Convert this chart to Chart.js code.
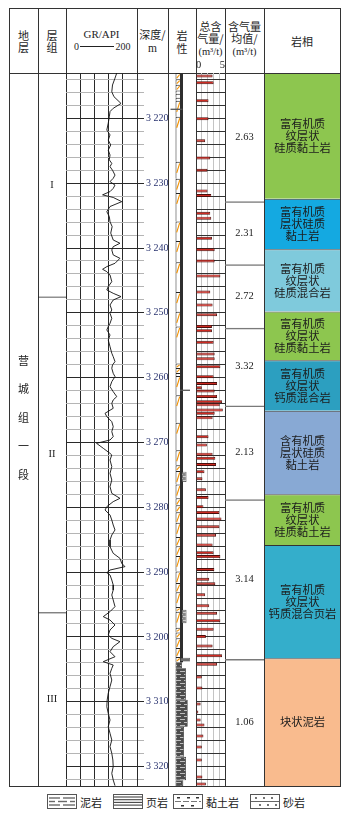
<!DOCTYPE html>
<html lang="zh">
<head>
<meta charset="utf-8">
<title>营城组一段综合柱状图</title>
<script src="https://cdn.jsdelivr.net/npm/chart.js@4.4.1/dist/chart.umd.min.js"></script>
<style>
html,body{margin:0;padding:0;background:#fff;}
#page{position:relative;width:352px;height:820px;overflow:hidden;background:#fff;font-family:"Noto Sans CJK SC","Noto Sans",sans-serif;color:#1e1e1e;}
.ln{position:absolute;background:#333;}
.tx{position:absolute;text-align:center;white-space:nowrap;font-size:11px;line-height:12px;}
.serif{font-family:"Liberation Serif","DejaVu Serif",serif;}
canvas{position:absolute;}
.lg{position:absolute;display:flex;align-items:center;gap:3px;font-size:11px;line-height:14px;white-space:nowrap;color:#222;}
.lg svg{display:block;}
</style>
</head>
<body>
<div id="page">
  <!-- table frame -->
  <div class="ln" style="left:9px;top:8px;width:332px;height:1px"></div>
  <div class="ln" style="left:9px;top:786px;width:332px;height:1px"></div>
  <div class="ln" style="left:9px;top:8px;width:1px;height:779px"></div>
  <div class="ln" style="left:340px;top:8px;width:1px;height:779px"></div>
  <div class="ln" style="left:9px;top:73px;width:332px;height:1px"></div>
  <div class="ln" style="left:38px;top:8px;width:1px;height:779px"></div>
  <div class="ln" style="left:66px;top:8px;width:1px;height:779px"></div>
  <div class="ln" style="left:137px;top:8px;width:1px;height:779px"></div>
  <div class="ln" style="left:168px;top:8px;width:1px;height:779px"></div>
  <div class="ln" style="left:196px;top:8px;width:1px;height:779px"></div>
  <div class="ln" style="left:225px;top:8px;width:1px;height:779px"></div>
  <div class="ln" style="left:264px;top:8px;width:1px;height:779px"></div>
  <div class="ln" style="left:80px;top:46px;width:34px;height:1px;background:#222"></div>

  <div id="hdr"></div>

  <canvas id="cStrat" width="29" height="713" style="left:9px;top:73px"></canvas>
  <canvas id="cGroup" width="28" height="713" style="left:38px;top:73px"></canvas>
  <canvas id="cGR" width="102" height="713" style="left:66px;top:73px"></canvas>
  <canvas id="cLitho" width="28" height="713" style="left:168px;top:73px"></canvas>
  <canvas id="cGas" width="29" height="725" style="left:196px;top:61px"></canvas>
  <canvas id="cAvg" width="39" height="713" style="left:225px;top:73px"></canvas>
  <canvas id="cFacies" width="75" height="713" style="left:265px;top:73px"></canvas>

  <!-- legend -->
  <div class="lg" style="left:47px;top:794px">
    <svg width="30" height="15"><rect x="0.5" y="0.5" width="29" height="14" fill="#fff" stroke="#555"/>
      <g stroke="#6a6a6a" stroke-width="1.4"><line x1="2" y1="4" x2="13" y2="4"/><line x1="16" y1="4" x2="28" y2="4"/><line x1="2" y1="7.5" x2="8" y2="7.5"/><line x1="11" y1="7.5" x2="20" y2="7.5"/><line x1="23" y1="7.5" x2="28" y2="7.5"/><line x1="2" y1="11" x2="13" y2="11"/><line x1="16" y1="11" x2="28" y2="11"/></g></svg>
    <span>泥岩</span>
  </div>
  <div class="lg" style="left:113px;top:794px">
    <svg width="30" height="15"><rect x="0.5" y="0.5" width="29" height="14" fill="#fff" stroke="#555"/>
      <g stroke="#444" stroke-width="1.1"><line x1="1" y1="3" x2="29" y2="3"/><line x1="1" y1="5.7" x2="29" y2="5.7"/><line x1="1" y1="8.4" x2="29" y2="8.4"/><line x1="1" y1="11.1" x2="29" y2="11.1"/></g></svg>
    <span>页岩</span>
  </div>
  <div class="lg" style="left:173px;top:794px">
    <svg width="30" height="15"><rect x="0.5" y="0.5" width="29" height="14" fill="#fff" stroke="#555"/>
      <line x1="2" y1="7.5" x2="28" y2="7.5" stroke="#777" stroke-width="1" stroke-dasharray="6,2"/>
      <g fill="#333"><rect x="4" y="3" width="3" height="1.5"/><rect x="14" y="3" width="3" height="1.5"/><rect x="23" y="3" width="3" height="1.5"/><rect x="8" y="11" width="3" height="1.5"/><rect x="18" y="11" width="3" height="1.5"/></g></svg>
    <span>黏土岩</span>
  </div>
  <div class="lg" style="left:250px;top:794px">
    <svg width="30" height="15"><rect x="0.5" y="0.5" width="29" height="14" fill="#fff" stroke="#555"/>
      <line x1="1" y1="7.5" x2="29" y2="7.5" stroke="#666" stroke-width="1"/>
      <g fill="#333"><circle cx="6" cy="4" r="0.9"/><circle cx="14" cy="4" r="0.9"/><circle cx="22" cy="4" r="0.9"/><circle cx="10" cy="11" r="0.9"/><circle cx="18" cy="11" r="0.9"/><circle cx="26" cy="11" r="0.9"/></g></svg>
    <span>砂岩</span>
  </div>
</div>

<script>
// ---------------- data ----------------
const DEPTH_MIN = 3213, DEPTH_MAX = 3323;
const depthTickValues = [3220, 3230, 3240, 3250, 3260, 3270, 3280, 3290, 3300, 3310, 3320];
const depthTickLabels = ['3 220', '3 230', '3 240', '3 250', '3 260', '3 270', '3 280', '3 290', '3 200', '3 310', '3 320'];
const grTickValues = [0, 40, 80, 120, 160, 200];
const gasTickValues = [0, 1, 2, 3, 4, 5];
const gasTickLabels = ['0', '', '', '', '', '5'];

const formationName = ['营', '城', '组', '一', '段'];

const groupNames = ['I', 'II', 'III'];
const groupTop = [3213, 3247.5, 3296.2];
const groupBottom = [3247.5, 3296.2, 3323];

// GR curve (API) vs depth (m)
const grDepth = [3213.0, 3213.8, 3214.85, 3215.9, 3216.65, 3217.7, 3218.45, 3218.95, 3219.75, 3220.75,
  3221.8, 3222.55, 3223.35, 3224.1, 3224.9, 3225.65, 3226.4, 3226.95, 3227.45, 3228.0,
  3228.75, 3229.25, 3229.75, 3230.3, 3230.8, 3231.3, 3231.8, 3232.2, 3232.85, 3233.6,
  3234.4, 3235.15, 3235.95, 3236.7, 3237.7, 3238.76, 3239.27, 3239.79, 3240.3, 3241.07,
  3241.59, 3242.36, 3242.87, 3243.28, 3243.65, 3244.16, 3245.19, 3245.96, 3246.47, 3246.99,
  3247.5, 3248.02, 3248.79, 3249.56, 3250.07, 3250.84, 3251.62, 3252.13, 3252.64, 3253.42,
  3254.19, 3255.22, 3256.24, 3256.76, 3257.53, 3258.04, 3258.56, 3259.33, 3259.84, 3260.62,
  3261.39, 3262.16, 3262.93, 3263.44, 3263.96, 3264.73, 3265.5, 3266.02, 3266.79, 3267.56,
  3268.33, 3269.1, 3269.62, 3270.13, 3270.9, 3271.68, 3271.93, 3272.71, 3273.73, 3274.76,
  3275.79, 3276.82, 3277.85, 3278.62, 3279.13, 3279.9, 3280.42, 3281.19, 3281.96, 3282.73,
  3283.5, 3284.28, 3285.05, 3286.08, 3287.1, 3287.88, 3288.65, 3289.16, 3289.68, 3290.09,
  3290.45, 3291.22, 3291.99, 3292.76, 3293.53, 3294.3, 3295.33, 3296.1, 3296.87, 3297.39,
  3298.16, 3298.93, 3299.7, 3300.22, 3300.73, 3301.5, 3302.28, 3303.05, 3303.82, 3304.33,
  3304.85, 3305.62, 3306.65, 3307.68, 3308.7, 3309.73, 3310.76, 3311.79, 3312.82, 3313.85,
  3314.87, 3315.9, 3316.93, 3317.96, 3318.99, 3320.02, 3321.05, 3322.07, 3322.95];
const grValue = [143, 138, 131, 129, 135, 155, 133, 124, 122, 119,
  115, 124, 119, 126, 119, 124, 122, 129, 124, 131,
  138, 133, 124, 138, 133, 124, 103, 133, 157, 124,
  115, 122, 124, 130, 126, 133, 152, 133, 129, 133,
  152, 138, 115, 103, 115, 124, 129, 119, 115, 133,
  155, 133, 124, 129, 124, 129, 124, 119, 115, 124,
  119, 124, 129, 133, 138, 131, 129, 133, 138, 129,
  124, 133, 143, 133, 129, 133, 110, 115, 129, 133,
  129, 133, 124, 86, 105, 124, 129, 124, 129, 124,
  129, 124, 129, 152, 133, 115, 110, 124, 129, 133,
  138, 129, 124, 124, 133, 152, 157, 166, 124, 115,
  124, 129, 133, 133, 129, 133, 138, 124, 105, 124,
  138, 124, 119, 129, 152, 133, 124, 138, 105, 133,
  129, 124, 129, 124, 119, 116, 115, 119, 124, 119,
  124, 129, 124, 129, 132, 133, 129, 133, 138];

// total gas content (m3/t) vs depth
const gasDepth = [3213.46, 3214.5, 3217.27, 3220.05, 3223.45, 3226.1, 3228.0, 3231.2, 3231.9, 3234.65,
  3235.4, 3238.5, 3240.26, 3242.0, 3244.3, 3246.8, 3248.8, 3250.3, 3252.1, 3252.75,
  3254.55, 3256.35, 3257.1, 3258.3, 3259.85, 3260.9, 3261.55, 3262.06, 3262.9, 3263.7,
  3264.2, 3265.0, 3265.5, 3266.2, 3269.1, 3270.4, 3271.8, 3272.45, 3273.4, 3274.5,
  3275.6, 3277.3, 3278.5, 3279.9, 3280.8, 3281.8, 3283.0, 3284.3, 3285.8, 3287.0,
  3287.6, 3289.6, 3291.1, 3291.8, 3293.5, 3295.2, 3296.35, 3297.5, 3298.8, 3299.95,
  3301.4, 3302.9, 3304.2, 3306.2, 3307.9, 3310.35, 3311.6, 3312.8, 3313.6, 3315.3,
  3317.0, 3319.0, 3321.6, 3322.7];
const gasValue = [2.86, 3.04, 2.16, 2.16, 1.58, 2.46, 1.99, 1.99, 2.63, 2.46,
  2.63, 2.75, 3.22, 3.22, 4.2, 2.46, 2.86, 3.63, 2.75, 2.75,
  3.04, 3.22, 3.22, 4.2, 3.04, 3.63, 1.0, 3.22, 3.63, 4.5,
  4.09, 4.62, 3.22, 2.86, 2.16, 1.87, 2.86, 3.33, 3.45, 1.46,
  1.11, 1.7, 2.16, 1.28, 4.04, 4.39, 4.04, 3.45, 2.86, 3.04,
  4.2, 3.16, 2.28, 3.33, 1.58, 2.28, 3.63, 4.2, 3.04, 1.7,
  2.86, 4.5, 3.63, 1.0, 1.1, 0.8, 0.4, 0.8, 1.46, 1.28,
  1.0, 1.0, 1.1, 1.7];

// average gas content intervals
const gasAvgValues = [2.63, 2.31, 2.72, 3.32, 2.13, 3.14, 1.06];
const gasAvgTop = [3213, 3232.8, 3242.5, 3252.3, 3264.3, 3278.75, 3303.4];
const gasAvgBottom = [3232.8, 3242.5, 3252.3, 3264.3, 3278.75, 3303.4, 3323];

// lithofacies
const faciesNames = [
  ['富有机质', '纹层状', '硅质黏土岩'],
  ['富有机质', '层状硅质', '黏土岩'],
  ['富有机质', '纹层状', '硅质混合岩'],
  ['富有机质', '纹层状', '硅质黏土岩'],
  ['富有机质', '纹层状', '钙质混合岩'],
  ['含有机质', '层状硅质', '黏土岩'],
  ['富有机质', '纹层状', '硅质黏土岩'],
  ['富有机质', '纹层状', '钙质混合页岩'],
  ['块状泥岩']];
const faciesTop = [3213, 3232.4, 3240.2, 3249.8, 3257.3, 3265.1, 3278.0, 3285.8, 3303.3];
const faciesBottom = [3232.4, 3240.2, 3249.8, 3257.3, 3265.1, 3278.0, 3285.8, 3303.3, 3323];
const faciesColors = ['#8dc64f', '#14a9e1', '#7fcadc', '#8dc64f', '#2c9fc0', '#88a9d4', '#8dc64f', '#34aecb', '#f9bb8e'];

// lithology column (depths in m; widths in column units)
const bedBoundaries = [3213, 3213.95, 3214.8, 3215.7, 3216.2, 3216.8, 3217.3, 3219.75, 3226.7, 3229.3,
  3231.5, 3235.9, 3238.9, 3242.2, 3246.8, 3249.85, 3252.1, 3257.8, 3258.5, 3259.3,
  3259.75, 3262.7, 3266.95, 3271.2, 3273.5, 3274.4, 3276.5, 3278.6, 3279.7, 3280.75,
  3282.4, 3284.6, 3286.0, 3287.5, 3289.9, 3291.7, 3293.1, 3295.4, 3296.1, 3298.6,
  3299.3, 3300.2, 3301.7, 3303.1, 3303.9];
const clayTop = [3274.5, 3295.8];
const clayBottom = [3276.1, 3297.9];
const mudTop = [3303.9, 3304.85, 3309.7, 3313.85, 3318.5, 3322.1];
const mudBottom = [3304.85, 3309.7, 3313.85, 3318.5, 3322.1, 3323];
const mudRight = [14, 18, 19.7, 16, 18, 15.3];

// ---------------- helpers ----------------
const el = id => document.getElementById(id);
const baseOpts = () => ({
  responsive: false, maintainAspectRatio: false, animation: false, events: [],
  layout: { padding: 0 },
  plugins: { legend: { display: false }, tooltip: { enabled: false } }
});
const depthAxis = extra => Object.assign({ type: 'linear', min: DEPTH_MIN, max: DEPTH_MAX, reverse: true, display: false, offset: false }, extra || {});
function evenTicks(scale) {
  const t = [];
  for (let v = Math.ceil(DEPTH_MIN / 2) * 2; v <= DEPTH_MAX; v += 2) t.push({ value: v });
  scale.ticks = t;
}

const cellText = {
  id: 'cellText',
  afterDatasetsDraw(chart) {
    const ctx = chart.ctx;
    chart.data.datasets.forEach((ds, i) => {
      if (!ds.cellLines) return;
      chart.getDatasetMeta(i).data.forEach(e => {
        const cy = (e.y + e.base) / 2 + (ds.cellShift || 0);
        const n = ds.cellLines.length;
        ctx.save();
        ctx.font = ds.cellFont;
        ctx.fillStyle = ds.cellColor || '#222';
        ctx.textAlign = 'center';
        ctx.textBaseline = 'middle';
        ds.cellLines.forEach((t, k) => ctx.fillText(t, e.x, cy + (k - (n - 1) / 2) * ds.cellLineHeight));
        ctx.restore();
      });
    });
  }
};

function columnChart(id, tops, bottoms, styleFn) {
  return new Chart(el(id), {
    type: 'bar',
    data: {
      labels: ['col'],
      datasets: tops.map((t, i) => Object.assign({
        data: [[t, bottoms[i]]], grouped: false, categoryPercentage: 1, barPercentage: 1,
        borderSkipped: false, inflateAmount: 0
      }, styleFn(i)))
    },
    options: Object.assign(baseOpts(), { scales: { x: { display: false }, y: depthAxis() } }),
    plugins: [cellText]
  });
}

// ---------------- header ----------------
const hdr = el('hdr');
function htext(html, cx, cy, w, cls, size) {
  const d = document.createElement('div');
  d.className = 'tx' + (cls ? ' ' + cls : '');
  d.style.left = (cx - w / 2) + 'px';
  d.style.top = (cy - 6) + 'px';
  d.style.width = w + 'px';
  if (size) d.style.fontSize = size + 'px';
  d.innerHTML = html;
  hdr.appendChild(d);
}
htext('地', 23.5, 35, 28); htext('层', 23.5, 47, 28);
htext('层', 52, 35, 28); htext('组', 52, 47, 28);
htext('GR/API', 101.5, 34, 70, 'serif', 11);
htext('0', 76.5, 46.5, 10, 'serif', 10); htext('200', 123, 46.5, 20, 'serif', 10);
htext('深度/', 152.5, 34, 31); htext('m', 152.5, 48, 31, 'serif', 11.5);
htext('岩', 182, 35, 28); htext('性', 182, 48, 28);
htext('总含', 210.5, 26, 29); htext('气量/', 210.5, 38, 29); htext('(m³/t)', 210.5, 52, 29, 'serif', 10.5);
htext('含气量', 244.5, 26, 39); htext('均值/', 244.5, 38, 39); htext('(m³/t)', 244.5, 52, 39, 'serif', 10.5);
htext('岩相', 302, 41, 76);

// ---------------- charts ----------------
// 地层
columnChart('cStrat', [DEPTH_MIN], [DEPTH_MAX], () => ({
  backgroundColor: 'rgba(0,0,0,0)', borderWidth: 0,
  cellLines: formationName, cellFont: '11px "Noto Sans CJK SC"', cellLineHeight: 28.5, cellShift: -12
}));

// 层组
columnChart('cGroup', groupTop, groupBottom, i => ({
  backgroundColor: 'rgba(0,0,0,0)', borderColor: '#222',
  borderWidth: { top: i === 0 ? 0 : 1, right: 0, bottom: 0, left: 0 },
  cellLines: [groupNames[i]], cellFont: '10.5px "Liberation Serif"', cellLineHeight: 12
}));

// 含气量均值
columnChart('cAvg', gasAvgTop, gasAvgBottom, i => ({
  backgroundColor: 'rgba(0,0,0,0)', borderColor: '#7a7a7a',
  borderWidth: { top: i === 0 ? 0 : 1.5, right: 0, bottom: 0, left: 0 },
  cellLines: [gasAvgValues[i].toFixed(2)], cellFont: '10.5px "Liberation Serif"', cellLineHeight: 12
}));

// 岩相
columnChart('cFacies', faciesTop, faciesBottom, i => ({
  backgroundColor: faciesColors[i], borderColor: '#333',
  borderWidth: { top: 1, right: 0, bottom: 0, left: 0 },
  cellLines: faciesNames[i], cellFont: '11.3px "Noto Sans CJK SC"', cellLineHeight: 12, cellColor: '#1c1c1c'
}));

// GR curve + depth axis
new Chart(el('cGR'), {
  type: 'scatter',
  data: {
    datasets: [{
      data: grDepth.map((d, i) => ({ x: grValue[i], y: d })),
      showLine: true, borderColor: '#111', borderWidth: 0.9, pointRadius: 0, tension: 0
    }]
  },
  options: Object.assign(baseOpts(), {
    scales: {
      x: {
        type: 'linear', min: 0, max: 200, position: 'bottom',
        afterBuildTicks: s => { s.ticks = grTickValues.map(v => ({ value: v })); },
        ticks: { display: false },
        grid: { drawTicks: false, color: '#2a2a2a', lineWidth: 1 },
        border: { display: false }
      },
      y: {
        type: 'linear', min: DEPTH_MIN, max: DEPTH_MAX, reverse: true, position: 'right',
        afterBuildTicks: evenTicks,
        ticks: {
          autoSkip: false, padding: 2, color: '#2a3470',
          font: { family: '"Liberation Serif", serif', size: 10 },
          callback: v => { const k = depthTickValues.indexOf(v); return k < 0 ? '' : depthTickLabels[k]; }
        },
        grid: {
          color: c => (c.tick && c.tick.value % 10 === 0) ? '#2a2a2a' : '#b5b5b5',
          lineWidth: 1, drawTicks: true, tickLength: 7
        },
        border: { display: true, color: '#2a2a2a' },
        afterFit: s => { s.width = 31; s.paddingTop = 0; s.paddingBottom = 0; }
      }
    }
  })
});

// total gas content bars
new Chart(el('cGas'), {
  type: 'bar',
  data: {
    datasets: [{
      data: gasDepth.map((d, i) => ({ x: gasValue[i], y: d })),
      backgroundColor: '#cf2a22', borderColor: '#4a0f0c', borderWidth: 0.9,
      borderSkipped: 'start', barThickness: 3, inflateAmount: 0
    }]
  },
  options: Object.assign(baseOpts(), {
    indexAxis: 'y',
    scales: {
      x: {
        type: 'linear', min: 0, max: 5, position: 'top',
        afterBuildTicks: s => { s.ticks = gasTickValues.map(v => ({ value: v })); },
        ticks: {
          autoSkip: false, maxRotation: 0, align: 'inner', padding: 1, color: '#222',
          font: { family: '"Liberation Serif", serif', size: 10.5 },
          callback: v => { const k = gasTickValues.indexOf(v); return k < 0 ? '' : gasTickLabels[k]; }
        },
        grid: {
          drawTicks: false, lineWidth: 1,
          color: c => (c.tick && (c.tick.value === 0 || c.tick.value === 5)) ? 'rgba(0,0,0,0)' : '#c4c4c4'
        },
        border: { display: false },
        afterFit: s => { s.height = 12; s.paddingLeft = 0; s.paddingRight = 0; }
      },
      y: {
        type: 'linear', min: DEPTH_MIN, max: DEPTH_MAX, reverse: true, position: 'left',
        offset: false, afterBuildTicks: evenTicks,
        ticks: { display: false },
        grid: { drawTicks: false, color: '#333', lineWidth: 1, offset: false },
        border: { display: false },
        afterFit: s => { s.width = 0; }
      }
    }
  })
});

// lithology column
(function () {
  const canvas = el('cLitho');
  const ctx = canvas.getContext('2d');
  const lithoScales = () => ({
    x: { type: 'linear', min: 0, max: 28, display: false, offset: false },
    y: depthAxis()
  });
  // measure widths through the library's x scale
  const probe = new Chart(canvas, { type: 'bar', data: { datasets: [] }, options: Object.assign(baseOpts(), { scales: lithoScales() }) });
  const sx = probe.scales.x;
  const span = (a, b) => Math.abs(sx.getPixelForValue(b) - sx.getPixelForValue(a));
  probe.destroy();

  function pattern(w, h, draw) {
    const c = document.createElement('canvas');
    c.width = w; c.height = h;
    draw(c.getContext('2d'));
    return ctx.createPattern(c, 'repeat');
  }
  const mudPattern = pattern(8, 6, g => {
    g.fillStyle = '#4d4d4d'; g.fillRect(0, 0, 8, 6);
    g.fillStyle = '#bdbdbd'; g.fillRect(0, 1, 5, 1); g.fillRect(4, 4, 4, 1); g.fillRect(0, 4, 1, 1);
  });
  const clayPattern = pattern(6, 4, g => {
    g.fillStyle = '#8a8a8a'; g.fillRect(0, 0, 6, 4);
    g.fillStyle = '#cfcfcf'; g.fillRect(0, 1, 3, 1); g.fillRect(3, 3, 3, 1);
  });

  function rectSet(xFrom, xTo, tops, bottoms, style) {
    return Object.assign({
      xFrom, xTo,
      data: tops.map((t, i) => ({ x: (xFrom + xTo) / 2, y: [t, bottoms[i]] })),
      grouped: false, borderSkipped: false, inflateAmount: 0,
      barThickness: span(xFrom, xTo)
    }, style);
  }

  const bedTops = bedBoundaries.slice(0, -1);
  const bedBottoms = bedBoundaries.slice(1);
  const upperTop = bedBoundaries[0], upperBottom = bedBoundaries[bedBoundaries.length - 1];

  const datasets = [
    rectSet(2.5, 14.5, [3218.5], [3218.7], { backgroundColor: '#555', borderWidth: 0 }),
    rectSet(12, 22, [3261.85], [3262.05], { backgroundColor: '#555', borderWidth: 0 }),
    rectSet(12, 22, [3303.2], [3303.8], { backgroundColor: '#6e6e6e', borderColor: '#333', borderWidth: 0.6 }),
    rectSet(13.5, 18.5, clayTop, clayBottom, { backgroundColor: clayPattern, borderColor: '#3a3a3a', borderWidth: 0.8 }),
    rectSet(12, 15, [upperTop], [upperBottom], { backgroundColor: '#2e2e2e', borderWidth: 0 }),
    rectSet(7.5, 12, bedTops, bedBottoms, {
      backgroundColor: '#ffffff', borderColor: '#222',
      borderWidth: { top: 1, left: 1, right: 0, bottom: 0 }, bedStroke: '#f39200'
    })
  ];
  mudTop.forEach((t, i) => datasets.push(rectSet(7.5, mudRight[i], [t], [mudBottom[i]], {
    backgroundColor: mudPattern, borderColor: '#2a2a2a', borderWidth: 0.7
  })));

  const bedStroke = {
    id: 'bedStroke',
    afterDatasetDraw(chart, args) {
      const ds = chart.data.datasets[args.index];
      if (!ds.bedStroke) return;
      const c = chart.ctx;
      c.save();
      c.strokeStyle = ds.bedStroke; c.lineWidth = 1.1;
      args.meta.data.forEach(e => {
        const top = Math.min(e.y, e.base), bot = Math.max(e.y, e.base), h = bot - top;
        if (h < 4) return;
        const l = e.x - e.width / 2, r = e.x + e.width / 2;
        c.beginPath();
        c.moveTo(l + 1.2, top + Math.min(h - 1, 11));
        c.lineTo(r - 0.3, top + 1.5);
        c.stroke();
      });
      c.restore();
    }
  };

  new Chart(canvas, {
    type: 'bar',
    data: { datasets },
    options: Object.assign(baseOpts(), { scales: lithoScales() }),
    plugins: [bedStroke]
  });
})();
</script>
</body>
</html>
